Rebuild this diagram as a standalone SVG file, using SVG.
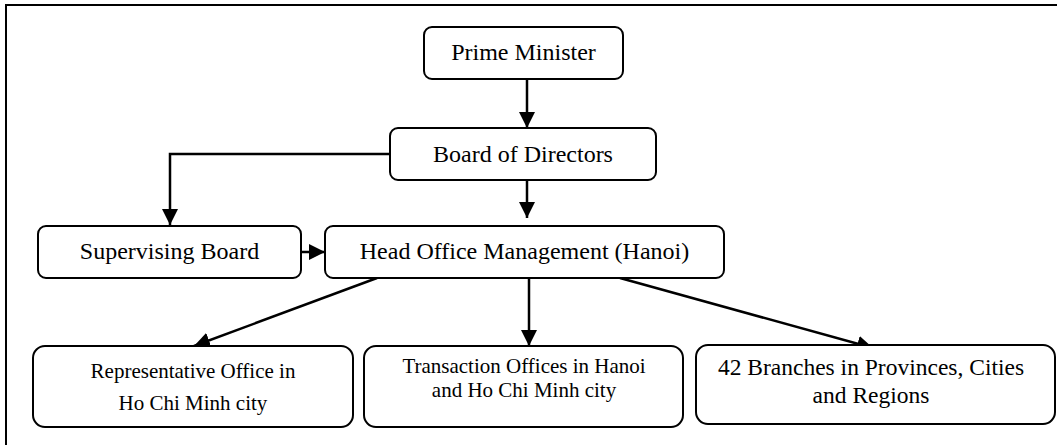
<svg xmlns="http://www.w3.org/2000/svg" width="1057" height="445" viewBox="0 0 1057 445">
<style>
.box{fill:#fff;stroke:#000;stroke-width:2}
.t{font-family:"Liberation Serif","Times New Roman",serif;fill:#000;text-anchor:middle}
.big{font-size:24px}
.sm{font-size:21px}
.conn{fill:none;stroke:#000;stroke-width:2.5}
</style>
<defs>
<marker id="ah" markerWidth="6" markerHeight="6" refX="6" refY="3" orient="auto" markerUnits="userSpaceOnUse" viewBox="0 0 6 6">
<path d="M0,0 L6,3 L0,6 Z" fill="#000"/>
</marker>
<marker id="arr" viewBox="0 0 16 16" refX="16" refY="8" markerWidth="16" markerHeight="16" orient="auto" markerUnits="userSpaceOnUse">
<path d="M0,0 L16,8 L0,16 Z" fill="#000"/>
</marker>
</defs>
<path d="M6,445 V5 H1057" fill="none" stroke="#000" stroke-width="2"/>
<g id="connectors">
<line class="conn" x1="527" y1="79" x2="527" y2="128" marker-end="url(#arr)"/>
<line class="conn" x1="527" y1="180" x2="527" y2="218" marker-end="url(#arr)"/>
<polyline class="conn" points="390,154 170,154 170,225" marker-end="url(#arr)"/>
<line class="conn" x1="301" y1="252" x2="325" y2="252" marker-end="url(#arr)"/>
<line class="conn" x1="377" y1="278" x2="194" y2="346" marker-end="url(#arr)"/>
<line class="conn" x1="529" y1="278" x2="529" y2="346" marker-end="url(#arr)"/>
<line class="conn" x1="620" y1="278" x2="873" y2="348" marker-end="url(#arr)"/>
</g>
<g id="prime-minister">
<rect class="box" x="424" y="27" width="199" height="52" rx="8"/>
<text class="t big" x="523.5" y="60">Prime Minister</text>
</g>
<g id="board-of-directors">
<rect class="box" x="390" y="128" width="266" height="52" rx="8"/>
<text class="t big" x="523" y="162">Board of Directors</text>
</g>
<g id="supervising-board">
<rect class="box" x="38" y="226" width="263" height="52" rx="8"/>
<text class="t big" x="169.5" y="259">Supervising Board</text>
</g>
<g id="head-office">
<rect class="box" x="325" y="226" width="399" height="52" rx="8"/>
<text class="t big" x="524.5" y="259">Head Office Management (Hanoi)</text>
</g>
<g id="representative-office">
<rect class="box" x="33" y="346" width="320" height="81" rx="12"/>
<text class="t sm" x="193" y="378">Representative Office in</text>
<text class="t sm" x="193" y="410">Ho Chi Minh city</text>
</g>
<g id="transaction-offices">
<rect class="box" x="364" y="346" width="319" height="81" rx="12"/>
<text class="t sm" x="524" y="373">Transaction Offices in Hanoi</text>
<text class="t sm" x="524" y="396.5">and Ho Chi Minh city</text>
</g>
<g id="branches">
<rect class="box" x="696" y="345" width="359" height="79" rx="12"/>
<text class="t" font-size="23.5" x="871" y="375">42 Branches in Provinces, Cities</text>
<text class="t" font-size="23.5" x="871" y="402.5">and Regions</text>
</g>
</svg>
